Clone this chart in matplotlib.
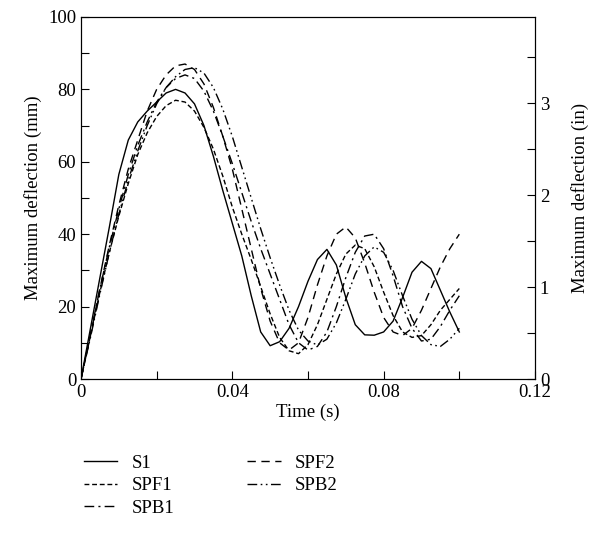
import numpy as np
import matplotlib
matplotlib.use("Agg")
import matplotlib.pyplot as plt
from matplotlib.ticker import MultipleLocator

# time grid (s)
time = [0.0, 0.0025, 0.005, 0.0075, 0.01, 0.0125, 0.015, 0.0175, 0.02, 0.0225,
        0.025, 0.0275, 0.03, 0.0325, 0.035, 0.0375, 0.04, 0.0425, 0.045, 0.0475,
        0.05, 0.0525, 0.055, 0.0575, 0.06, 0.0625, 0.065, 0.0675, 0.07, 0.0725,
        0.075, 0.0775, 0.08, 0.0825, 0.085, 0.0875, 0.09, 0.0925, 0.095, 0.0975, 0.1]

# maximum deflection (mm)
s1 = [0, 14, 28, 42, 56.5, 66, 71, 74, 76.5, 79,
      80, 79, 76, 70, 61.5, 52, 43, 34, 23, 13,
      9.2, 10.3, 14, 20, 27, 33, 35.8, 31.5, 22.5, 15,
      12.2, 12.1, 13, 16, 22.5, 29.5, 32.5, 30.5, 24.5, 18.5, 13]
spf1 = [0, 12, 24, 35, 45, 54, 62, 68, 72.5, 75.5,
        77, 76.5, 74, 69.5, 63.5, 56, 47.5, 40, 33, 25.5,
        18, 11.5, 7.8, 7, 9.5, 15, 22, 29, 34.5, 37,
        36, 31, 24, 17.5, 13, 11.5, 12, 15, 19, 22, 25]
spb1 = [0, 12.5, 25, 36.5, 47, 56.5, 64.5, 71, 76.5, 80.5,
        83, 84, 83, 79.5, 74, 67, 59.5, 51.5, 43.5, 36,
        29, 22, 15, 10, 8, 9, 13, 20, 28, 35,
        39.5, 40, 36, 28.5, 20, 14, 10.5, 11, 14.5, 19, 23]
spf2 = [0, 12, 25, 37, 48, 58, 66, 74, 80, 84,
        86.5, 87, 85.5, 81.5, 75, 67, 58, 47, 36, 25,
        16, 10, 8, 10, 17, 26, 34, 40, 42, 39,
        32, 24, 17, 13, 12, 14, 19, 25, 31, 36, 40]
spb2 = [0, 11.5, 23.5, 35, 45.5, 55, 63, 70, 76, 80.5,
        83.5, 85.5, 86, 84.5, 80.5, 74.5, 67, 58.5, 50, 41.5,
        33.5, 26, 19, 13.5, 10.5, 9.4, 11, 15.5, 22, 29,
        34, 36.5, 35, 30, 23, 16.5, 12, 9.5, 9, 11, 14]

plt.rcParams['font.family'] = ['Liberation Serif', 'DejaVu Serif']
plt.rcParams['font.size'] = 13.5

fig = plt.figure(figsize=(5.96, 5.42), dpi=100)
ax = fig.add_axes([0.1359, 0.3007, 0.7617, 0.668])

lw = 1.0
l1, = ax.plot(time, s1, color='black', lw=lw, linestyle='-', label='S1')
l2, = ax.plot(time, spf1, color='black', lw=lw, linestyle=(0, (3.5, 2)), label='SPF1')
l3, = ax.plot(time, spb1, color='black', lw=lw, linestyle=(0, (7, 3, 1.5, 3)), label='SPB1')
l4, = ax.plot(time, spf2, color='black', lw=lw, linestyle=(0, (6, 4)), label='SPF2')
l5, = ax.plot(time, spb2, color='black', lw=lw, linestyle=(0, (7, 2.5, 1.2, 2.5, 1.2, 2.5)), label='SPB2')

ax.set_xlim(0, 0.12)
ax.set_ylim(0, 100)
ax.set_xticks([0, 0.04, 0.08, 0.12])
ax.set_xticklabels(['0', '0.04', '0.08', '0.12'])
ax.xaxis.set_minor_locator(MultipleLocator(0.02))
ax.yaxis.set_major_locator(MultipleLocator(20))
ax.yaxis.set_minor_locator(MultipleLocator(10))
ax.tick_params(which='both', direction='in', top=False, right=False)
ax.tick_params(which='major', length=6, width=0.8)
ax.tick_params(which='minor', length=6, width=0.8)
ax.set_xlabel('Time (s)', labelpad=2)
ax.set_ylabel('Maximum deflection (mm)', labelpad=4)

ax2 = ax.twinx()
ax2.set_ylim(0, 100 / 25.4)
ax2.yaxis.set_major_locator(MultipleLocator(1))
ax2.yaxis.set_minor_locator(MultipleLocator(0.5))
ax2.tick_params(which='both', direction='in', length=6, width=0.8)
ax2.set_ylabel('Maximum deflection (in)', labelpad=16)

fig.legend(handles=[l1, l2, l3, l4, l5], ncol=2, frameon=False,
           loc='upper left', bbox_to_anchor=(0.112, 0.192),
           handlelength=1.8, handletextpad=0.75, columnspacing=3.9,
           labelspacing=0.28, fontsize=13.5)

fig.savefig('out.png', dpi=100)
